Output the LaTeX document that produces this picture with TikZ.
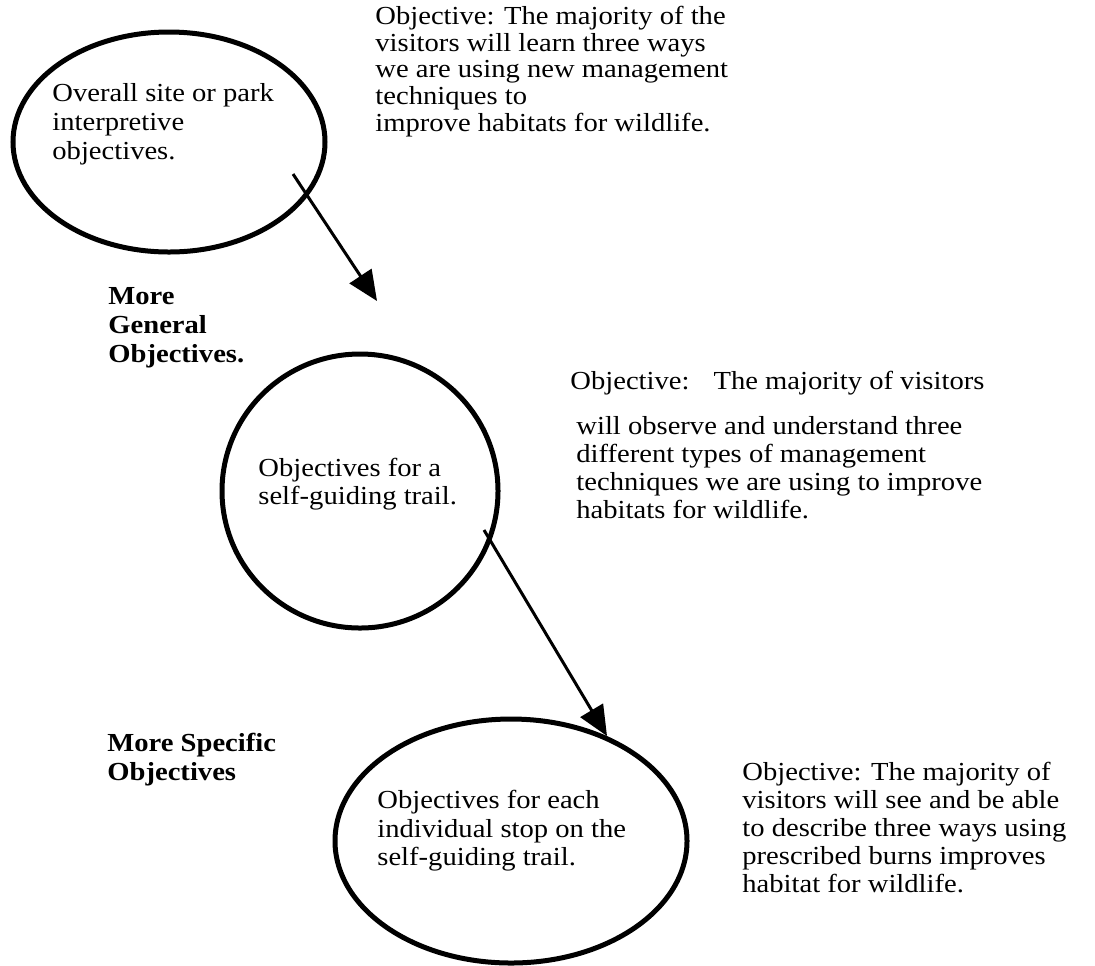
\documentclass[tikz,border=0pt]{standalone}
\usepackage{fontspec}
\setmainfont[FakeStretch=1.1]{Liberation Serif}
\usetikzlibrary{positioning, arrows.meta, shapes.geometric}
\tikzstyle{goal} = [draw, ellipse, line width=2.5pt, inner sep=0pt]
\tikzstyle{txt} = [anchor=north west, inner sep=0pt, align=left, font=\fontsize{13}{14.2}\selectfont]
\tikzstyle{lvl} = [txt, font=\fontsize{13}{14.5}\selectfont\bfseries]
\tikzstyle{link} = [line width=1.5pt, -{Triangle[length=15pt, width=13pt]}]

\begin{document}
\begin{tikzpicture}[x=0.5pt, y=-0.5pt]
	\useasboundingbox (0,0) rectangle (1095,965);
	%ellipses
	\node[goal, minimum width=156pt, minimum height=110pt] (site) at (169,142) {};
	\node[goal, minimum width=138pt, minimum height=137pt] (trail) at (360,491) {};
	\node[goal, minimum width=176pt, minimum height=122pt] (stop) at (511,841) {};
	
	%texts in the ellipses
	\node[txt, font=\fontsize{13}{14.5}\selectfont] (sitetext) at (52,83) {Overall site or park\\interpretive\\objectives.};
	\node[txt, font=\fontsize{13}{14}\selectfont] (trailtext) at (258,458) {Objectives for a\\self-guiding trail.};
	\node[txt, font=\fontsize{13}{14.3}\selectfont] (stoptext) at (377,790) {Objectives for each\\individual stop on the\\self-guiding trail.};
	
	%objectives
	\node[txt, font=\fontsize{13}{13.3}\selectfont] (objsite) at (375,6) {Objective: The majority of the\\visitors will learn three ways\\we are using new management\\techniques to\\improve habitats for wildlife.};
	\node[txt] (objtrailhead) at (570,371) {Objective:\hspace{12pt}The majority of visitors};
	\node[txt, font=\fontsize{13}{14}\selectfont] (objtrail) at (576,416) {will observe and understand three\\different types of management\\techniques we are using to improve\\habitats for wildlife.};
	\node[txt, font=\fontsize{13}{14}\selectfont] (objstop) at (742,762) {Objective: The majority of\\visitors will see and be able\\to describe three ways using\\prescribed burns improves\\habitat for wildlife.};
	
	%levels
	\node[lvl] (general) at (108,287) {More\\General\\Objectives.};
	\node[lvl] (specific) at (107,733) {More Specific\\Objectives};
	
	%arrows
	\coordinate (from1) at (293,174);
	\coordinate (to1) at (377,301);
	\coordinate (from2) at (484,530);
	\coordinate (to2) at (607,736);
	\draw[link] (from1) -- (to1);
	\draw[link] (from2) -- (to2);
\end{tikzpicture}
\end{document}
